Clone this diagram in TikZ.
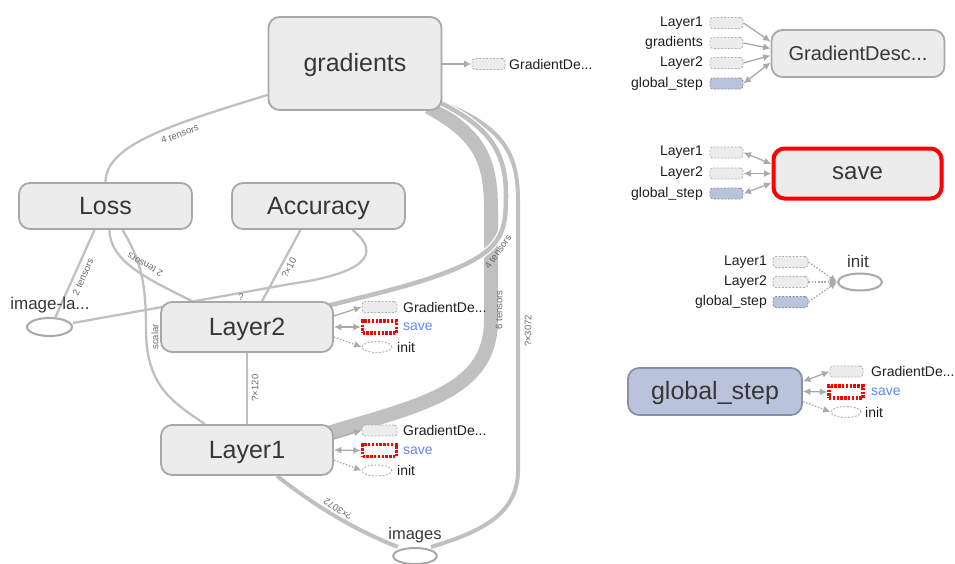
\documentclass[tikz,border=0pt]{standalone}
\usepackage{fontspec}
\setmainfont{Liberation Sans}
\usetikzlibrary{arrows.meta,shapes.geometric}

\definecolor{opfill}{RGB}{236,236,236}
\definecolor{opline}{RGB}{168,168,168}
\definecolor{edgegray}{RGB}{192,192,192}
\definecolor{tipgray}{RGB}{170,170,170}
\definecolor{txtdark}{RGB}{55,55,55}
\definecolor{txtsmall}{RGB}{30,30,30}
\definecolor{labgray}{RGB}{105,105,105}
\definecolor{varfill}{RGB}{185,196,220}
\definecolor{varline}{RGB}{136,144,164}
\definecolor{savered}{RGB}{255,0,0}
\definecolor{saveblue}{RGB}{95,135,250}
\definecolor{stubline}{RGB}{178,178,178}

\newcommand{\fsz}[1]{\fontsize{#1}{#1}\selectfont}

\pgfdeclarelayer{edges}
\pgfsetlayers{edges,main}

\tikzset{
  opnode/.style={draw=opline, line width=1.8pt, fill=opfill, rounded corners=11pt,
    text=txtdark, inner sep=0pt, font=\fsz{25}, text height=18pt, text depth=2pt},
  varnode/.style={opnode, fill=varfill, draw=varline},
  ring/.style={ellipse, draw=opline, line width=2pt, fill=white, inner sep=0pt},
  stub/.style={draw=stubline, dash pattern=on 2pt off 1.5pt, line width=0.9pt, fill=opfill,
    rounded corners=3pt, minimum width=33pt, minimum height=11pt, inner sep=0pt},
  varstub/.style={stub, fill=varfill, draw=varline},
  savestub/.style={draw=savered, dash pattern=on 2.4pt off 1.4pt, line width=3.4pt, fill=white,
    minimum width=34pt, minimum height=12pt, inner sep=0pt},
  initstub/.style={ellipse, draw=stubline, dash pattern=on 2pt off 1.5pt, line width=0.9pt,
    fill=white, minimum width=30pt, minimum height=11pt, inner sep=0pt},
  stublabel/.style={font=\fsz{14}, text=txtsmall, inner sep=0pt},
  savelabel/.style={font=\fsz{14}, text=saveblue, inner sep=0pt},
  edge/.style={draw=edgegray, line width=2.3pt},
  elabel/.style={font=\fsz{9.5}, text=labgray, inner sep=0pt},
  sidearr/.style={draw=tipgray, line width=1.3pt, -{Latex[length=7.5pt,width=7pt]}},
  botharr/.style={draw=tipgray, line width=1.3pt, {Latex[length=7.5pt,width=7pt]}-{Latex[length=7.5pt,width=7pt]}},
  dotarr/.style={draw=tipgray, line width=1.3pt, dash pattern=on 1.6pt off 1.6pt,
    -{Latex[length=7.5pt,width=7pt]}},
}

\begin{document}
\begin{tikzpicture}[x=1pt,y=-1pt]
\useasboundingbox (0,0) rectangle (955,563);

% ---------- main graph nodes ----------
\node[opnode, minimum width=173pt, minimum height=93pt] (grad) at (355,63.5) {gradients};
\node[opnode, minimum width=173pt, minimum height=46pt] (loss) at (105.5,206) {Loss};
\node[opnode, minimum width=173pt, minimum height=46pt] (acc) at (318.5,206) {Accuracy};
\node[opnode, minimum width=172pt, minimum height=50pt] (layer2) at (247,327) {Layer2};
\node[opnode, minimum width=172pt, minimum height=50pt] (layer1) at (247,450) {Layer1};
\node[ring, minimum width=45pt, minimum height=18pt] (imgla) at (49.5,327) {};
\node[font=\fsz{17}, text=txtdark, inner sep=0pt] (imglalab) at (50,305) {image-la...};
\node[ring, minimum width=44pt, minimum height=16pt] (images) at (415,556) {};
\node[font=\fsz{16.5}, text=txtdark, inner sep=0pt] (imageslab) at (415,535) {images};

% gradients side output
\node[stub] (gdg) at (488.5,64) {};
\node[stublabel, anchor=west] (gdglab) at (509,64) {GradientDe...};

% Layer2 side outputs
\node[stub, minimum width=35pt] (gd2) at (379.5,307) {};
\node[savestub] (sv2) at (379.5,327) {};
\node[initstub] (in2) at (377,347) {};
\node[stublabel, anchor=west] (gd2lab) at (403,307) {GradientDe...};
\node[savelabel, anchor=west] (sv2lab) at (403,327) {save};
\node[stublabel, anchor=west] (in2lab) at (397,347) {init};

% Layer1 side outputs
\node[stub, minimum width=35pt] (gd1) at (379.5,430.5) {};
\node[savestub] (sv1) at (379.5,450.5) {};
\node[initstub] (in1) at (377,470.5) {};
\node[stublabel, anchor=west] (gd1lab) at (403,430.5) {GradientDe...};
\node[savelabel, anchor=west] (sv1lab) at (403,450.5) {save};
\node[stublabel, anchor=west] (in1lab) at (397,470.5) {init};

% ---------- edges of the main graph ----------
\begin{pgfonlayer}{edges}
  % gradients <- Loss
  \draw[edge] ([yshift=16pt]grad.south west) .. controls (170,125) and (105.5,145) .. (loss.north);
  % Loss <- image-label
  \draw[edge] ([xshift=-11pt]loss.south) -- ([xshift=6pt]imgla.north);
  % Loss <- Layer2
  \draw[edge] ([xshift=4pt]loss.south) .. controls (109.5,262) and (150,280) .. ([xshift=-55pt]layer2.north);
  % Loss <- Layer1 (scalar)
  \draw[edge] ([xshift=17pt]loss.south) .. controls (142,262) and (146,285) .. (146,330)
        .. controls (146,385) and (172,402) .. ([xshift=-42pt]layer1.north);
  % Accuracy <- Layer2
  \draw[edge] ([xshift=-18pt]acc.south) -- ([xshift=15pt]layer2.north);
  % Accuracy <- image-label
  \draw[edge] ([xshift=34pt]acc.south) .. controls (392,262) and (340,277) .. (290,284)
        -- ([yshift=4pt]imgla.east);
  % Layer2 <- Layer1
  \draw[edge] (layer2.south) -- (layer1.north);
  % Layer1 <- images
  \draw[edge, line width=4pt] ([xshift=30pt]layer1.south) .. controls (320,510) and (360,532)
        .. ([xshift=-17pt]images.north);
  % gradients <- images
  \draw[edge, line width=4pt, preaction={draw=white, line width=7pt}]
        ([xshift=16pt]images.north) .. controls (480,532) and (518,515) .. (518,470)
        -- (518,200) .. controls (518,150) and (500,125) .. ([xshift=-5pt,yshift=10pt]grad.south east);
  % gradients <- Layer1 (6 tensors)
  \draw[edge, line width=14pt] ([xshift=-14pt,yshift=4pt]grad.south east)
        .. controls (480,135) and (491,160) .. (491,210) -- (491,320)
        .. controls (491,392) and (420,405) .. ([xshift=-6pt,yshift=-9pt]layer1.north east);
  % gradients <- Layer2 (4 tensors)
  \draw[edge, line width=4.5pt, preaction={draw=white, line width=7pt}]
        ([xshift=-8pt,yshift=-5pt]layer2.north east) .. controls (400,288) and (478,270) .. (497,240)
        .. controls (505,228) and (506,215) .. (506,195)
        .. controls (506,155) and (492,128) .. ([xshift=-2pt,yshift=8pt]grad.south east);
\end{pgfonlayer}

% edge labels
\node[elabel, rotate=20] (l1) at (180,134) {4 tensors};
\node[elabel, rotate=66] (l2) at (83,277) {2 tensors};
\node[elabel, rotate=151] (l3) at (145,265) {2 tensors};
\node[elabel, rotate=90] (l4) at (155,337) {scalar};
\node[elabel, rotate=62] (l5) at (289,268) {?×10};
\node[elabel] (l6) at (241,297) {?};
\node[elabel, rotate=90] (l7) at (255,388) {?×120};
\node[elabel, rotate=55] (l8) at (498,252) {4 tensors};
\node[elabel, rotate=90] (l9) at (499,310) {6 tensors};
\node[elabel, rotate=90] (l10) at (528,331) {?×3072};
\node[elabel, rotate=147] (l11) at (338,509) {?×3072};

% side arrows of the main graph
\draw[sidearr] (grad.east |- gdg) -- (gdg.west);
\draw[sidearr] ([yshift=11pt]layer2.east) -- (gd2.west);
\draw[botharr] (layer2.east) -- (sv2.west);
\draw[dotarr] ([yshift=-10pt]layer2.east) -- (in2.west);
\draw[sidearr] ([yshift=11pt]layer1.east) -- (gd1.west);
\draw[botharr] (layer1.east) -- (sv1.west);
\draw[dotarr] ([yshift=-10pt]layer1.east) -- (in1.west);

% ---------- GradientDescent cluster ----------
\node[opnode, minimum width=173pt, minimum height=47pt, font=\fsz{20}, text height=14.5pt, text depth=1.5pt] (gdbox) at (858,53.5) {GradientDesc...};
\node[stub] (ga1) at (726.5,23) {};
\node[stub] (ga2) at (726.5,43) {};
\node[stub] (ga3) at (726.5,63) {};
\node[varstub] (ga4) at (726.5,83.5) {};
\node[stublabel, anchor=east] (ga1lab) at (703,23) {Layer1};
\node[stublabel, anchor=east] (ga2lab) at (703,43) {gradients};
\node[stublabel, anchor=east] (ga3lab) at (703,63) {Layer2};
\node[stublabel, anchor=east] (ga4lab) at (703,83.5) {global\_step};
\draw[sidearr] (ga1.east) -- ([yshift=12pt]gdbox.west);
\draw[sidearr] (ga2.east) -- ([yshift=5pt]gdbox.west);
\draw[sidearr] (ga3.east) -- ([yshift=-2pt]gdbox.west);
\draw[botharr] (ga4.east) -- ([yshift=-9pt]gdbox.west);

% ---------- save cluster ----------
\node[opnode, draw=savered, line width=4pt, minimum width=168pt, minimum height=50pt, font=\fsz{24}, text height=14pt, text depth=2pt] (savebox) at (857.5,173.5) {save};
\node[stub] (sa1) at (726.5,152.5) {};
\node[stub] (sa2) at (726.5,173.5) {};
\node[varstub] (sa3) at (726.5,193.5) {};
\node[stublabel, anchor=east] (sa1lab) at (703,152.5) {Layer1};
\node[stublabel, anchor=east] (sa2lab) at (703,173.5) {Layer2};
\node[stublabel, anchor=east] (sa3lab) at (703,193.5) {global\_step};
\draw[botharr] (sa1.east) -- ([yshift=9.5pt]savebox.west);
\draw[botharr] (sa2.east) -- (savebox.west);
\draw[botharr] (sa3.east) -- ([yshift=-9.5pt]savebox.west);

% ---------- init cluster ----------
\node[ring, minimum width=44pt, minimum height=17pt] (initring) at (860,282) {};
\node[font=\fsz{17}, text=txtdark, inner sep=0pt] (initlab) at (858,261) {init};
\node[stub, minimum width=35pt] (ia1) at (790.5,262) {};
\node[stub, minimum width=35pt] (ia2) at (790.5,282) {};
\node[varstub, minimum width=35pt] (ia3) at (790.5,302) {};
\node[stublabel, anchor=east] (ia1lab) at (767,262) {Layer1};
\node[stublabel, anchor=east] (ia2lab) at (767,282) {Layer2};
\node[stublabel, anchor=east] (ia3lab) at (767,302) {global\_step};
\draw[dotarr] (ia1.east) -- (initring.west);
\draw[dotarr] (ia2.east) -- (initring.west);
\draw[dotarr] (ia3.east) -- (initring.west);

% ---------- global_step cluster ----------
\node[varnode, minimum width=174pt, minimum height=47pt] (gsbox) at (715,391.5) {global\_step};
\node[stub] (gs1) at (846.5,371.5) {};
\node[savestub] (gs2) at (846,392) {};
\node[initstub] (gs3) at (846,412) {};
\node[stublabel, anchor=west] (gs1lab) at (871,371.5) {GradientDe...};
\node[savelabel, anchor=west] (gs2lab) at (871,392) {save};
\node[stublabel, anchor=west] (gs3lab) at (865,412) {init};
\draw[botharr] ([yshift=10pt]gsbox.east) -- (gs1.west);
\draw[botharr] (gsbox.east) -- (gs2.west);
\draw[dotarr] ([yshift=-10pt]gsbox.east) -- (gs3.west);

\end{tikzpicture}
\end{document}
